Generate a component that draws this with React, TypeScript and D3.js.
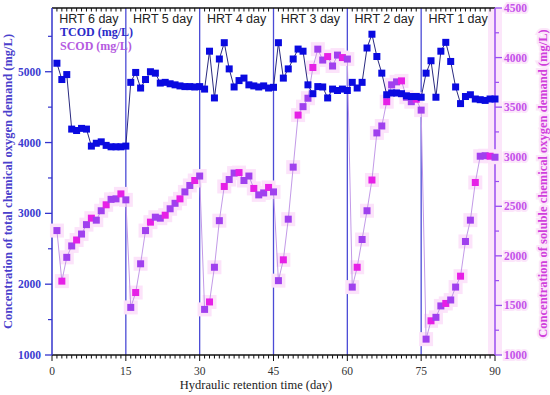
import React, { useEffect, useRef } from 'react';
import * as d3 from 'd3';

// daily readings, days 1..90 (six HRT stages of 15 days)
const tcod = [
	5120, 4890, 4960, 4190, 4170, 4200, 4190, 3950, 3990, 4010, 3960, 3940, 3940, 3940, 3950,
	4850, 4990, 4770, 4890, 5000, 4980, 4840, 4850, 4830, 4815, 4800, 4790, 4790, 4785, 4790,
	4755, 5290, 4630, 5180, 5410, 5040, 4785, 4875, 4910, 4815, 4800, 4785, 4800, 4770, 4780,
	5410, 4910, 5040, 5180, 5320, 5290, 4815, 4690, 4790, 4785, 4630, 4755, 4735, 4755, 4735,
	4850, 4770, 4850, 5335, 5530, 5215, 4980, 4675, 4700, 4700, 4690, 4660, 4650, 4650, 4640,
	4980, 5155, 4640, 5290, 5415, 5145, 4785, 4550, 4650, 4675, 4615, 4605, 4595, 4615, 4615,
];

const scod = [
	2255, 1745, 1985, 2100, 2160, 2220, 2315, 2380, 2360, 2455, 2515, 2570, 2575, 2625, 2565,
	1480, 1630, 1920, 2255, 2340, 2390, 2380, 2410, 2475, 2530, 2575, 2645, 2710, 2760, 2805,
	1460, 1535, 1885, 2355, 2700, 2770, 2835, 2840, 2760, 2805, 2680, 2615, 2635, 2690, 2645,
	1750, 1960, 2370, 2895, 3420, 3505, 3590, 3900, 4085, 3975, 4010, 3915, 4025, 4000, 3985,
	1685, 1885, 2165, 2455, 2765, 3240, 3310, 3555, 3725, 3755, 3765, 3600, 3555, 3580, 3470,
	1160, 1345, 1380, 1495, 1520, 1555, 1685, 1795, 2145, 2360, 2740, 3005, 3010, 3005, 2995,
];

const stageBounds = [15, 30, 45, 60, 75];
const stageLabels = ['HRT 6 day', 'HRT 5 day', 'HRT 4 day', 'HRT 3 day', 'HRT 2 day', 'HRT 1 day'];
const xTicks = [0, 15, 30, 45, 60, 75, 90];
const leftTicks = [1000, 2000, 3000, 4000, 5000];
const leftMinor = [1500, 2500, 3500, 4500, 5500];
const rightTicks = [1000, 1500, 2000, 2500, 3000, 3500, 4000, 4500];
const rightMinor = [1250, 1750, 2250, 2750, 3250, 3750, 4250];

const serif = '"Liberation Serif", "Times New Roman", serif';
const sans = '"Liberation Sans", Arial, sans-serif';

const App: React.FC = () => {
	const svgRef = useRef<SVGSVGElement | null>(null);

	useEffect(() => {
		if (svgRef.current == null) return;

		const width = 550;
		const height = 395;
		const left = 52, right = 495, top = 8, bottom = 355;

		const days = tcod.map((_, i) => i + 1);

		const x = d3.scaleLinear().domain([0, 90]).range([left, right]);
		const yL = d3.scaleLinear().domain([1000, 5900]).range([bottom, top]);
		const yR = d3.scaleLinear().domain([1000, 4500]).range([bottom, top]);

		const svg = d3.select(svgRef.current);
		svg.selectAll('*').remove();
		svg.attr('width', width).attr('height', height);

		svg.append('rect').attr('width', width).attr('height', height).attr('fill', '#fff');

		// pink glow along right axis
		svg.append('line')
			.attr('x1', right).attr('x2', right).attr('y1', top).attr('y2', bottom)
			.attr('stroke', '#fce6fa').attr('stroke-width', 14);

		// stage separators
		svg.append('g').selectAll('line').data(stageBounds).join('line')
			.attr('x1', d => x(d)).attr('x2', d => x(d))
			.attr('y1', top).attr('y2', bottom)
			.attr('stroke', '#4b4bd6').attr('stroke-width', 1.3);

		// stage labels
		svg.append('g').selectAll('text').data(stageLabels).join('text')
			.attr('x', (_, i) => x(i * 15 + 7.5))
			.attr('y', 23)
			.attr('text-anchor', 'middle')
			.attr('font-family', sans)
			.attr('font-size', 12.5)
			.attr('fill', '#222')
			.text(d => d);

		// top and bottom frame with day ticks
		const dayTicks = d3.range(0, 91);
		svg.append('line').attr('x1', left).attr('x2', right).attr('y1', top).attr('y2', top)
			.attr('stroke', '#111').attr('stroke-width', 1.3);
		svg.append('line').attr('x1', left).attr('x2', right).attr('y1', bottom).attr('y2', bottom)
			.attr('stroke', '#111').attr('stroke-width', 1.3);
		svg.append('g').selectAll('line').data(dayTicks).join('line')
			.attr('x1', d => x(d)).attr('x2', d => x(d))
			.attr('y1', bottom).attr('y2', d => bottom + (d % 15 === 0 ? 6 : 3.5))
			.attr('stroke', '#111').attr('stroke-width', 1);
		svg.append('g').selectAll('line').data(dayTicks).join('line')
			.attr('x1', d => x(d)).attr('x2', d => x(d))
			.attr('y1', top).attr('y2', d => top + (d % 15 === 0 ? 0 : 3.5))
			.attr('stroke', '#111').attr('stroke-width', 1);

		svg.append('g').selectAll('text').data(xTicks).join('text')
			.attr('x', d => x(d)).attr('y', 375)
			.attr('text-anchor', 'middle')
			.attr('font-family', serif).attr('font-size', 11.5)
			.attr('fill', '#333')
			.text(d => d);

		svg.append('text')
			.attr('x', 256).attr('y', 389)
			.attr('text-anchor', 'middle')
			.attr('font-family', serif).attr('font-size', 12.5)
			.attr('fill', '#222')
			.text('Hydraulic retention time (day)');

		// left axis (TCOD)
		const blue = '#3434cc';
		svg.append('line').attr('x1', left).attr('x2', left).attr('y1', top).attr('y2', bottom)
			.attr('stroke', blue).attr('stroke-width', 1.5);
		svg.append('g').selectAll('line').data(leftTicks).join('line')
			.attr('x1', left - 7).attr('x2', left).attr('y1', d => yL(d)).attr('y2', d => yL(d))
			.attr('stroke', blue).attr('stroke-width', 1.3);
		svg.append('g').selectAll('line').data(leftMinor).join('line')
			.attr('x1', left - 4).attr('x2', left).attr('y1', d => yL(d)).attr('y2', d => yL(d))
			.attr('stroke', blue).attr('stroke-width', 1.2);
		svg.append('g').selectAll('text').data(leftTicks).join('text')
			.attr('x', 41).attr('y', d => yL(d)).attr('dy', '0.35em')
			.attr('text-anchor', 'end')
			.attr('font-family', serif).attr('font-size', 11.5).attr('font-weight', 'bold')
			.attr('fill', '#3c3cd0')
			.text(d => d);
		svg.append('text')
			.attr('transform', `translate(12,${(top + bottom) / 2}) rotate(-90)`)
			.attr('text-anchor', 'middle')
			.attr('font-family', serif).attr('font-size', 12.5).attr('font-weight', 'bold')
			.attr('fill', '#4a40cc')
			.text('Concentration of total chemical oxygen demand (mg/L)');

		// right axis (SCOD)
		const violet = '#9a4ef0';
		svg.append('line').attr('x1', right).attr('x2', right).attr('y1', top).attr('y2', bottom)
			.attr('stroke', violet).attr('stroke-width', 1.5);
		svg.append('g').selectAll('line').data(rightTicks).join('line')
			.attr('x1', right).attr('x2', right + 7).attr('y1', d => yR(d)).attr('y2', d => yR(d))
			.attr('stroke', violet).attr('stroke-width', 1.3);
		svg.append('g').selectAll('line').data(rightMinor).join('line')
			.attr('x1', right).attr('x2', right + 4).attr('y1', d => yR(d)).attr('y2', d => yR(d))
			.attr('stroke', violet).attr('stroke-width', 1.2);
		svg.append('g').selectAll('text').data(rightTicks).join('text')
			.attr('x', 504).attr('y', d => yR(d)).attr('dy', '0.35em')
			.attr('font-family', serif).attr('font-size', 11.5).attr('font-weight', 'bold')
			.attr('fill', '#c452ea')
			.attr('stroke', '#fce6fa').attr('stroke-width', 4).attr('paint-order', 'stroke')
			.text(d => d);
		svg.append('text')
			.attr('transform', `translate(547,${(top + bottom) / 2 + 2}) rotate(-90)`)
			.attr('text-anchor', 'middle')
			.attr('font-family', serif).attr('font-size', 12.5).attr('font-weight', 'bold')
			.attr('fill', '#d040dc')
			.attr('stroke', '#fce6fa').attr('stroke-width', 4).attr('paint-order', 'stroke')
			.text('Concentration of soluble chemical oxygen demand (mg/L)');

		// SCOD series
		const scodLine = d3.line<number>()
			.x((_, i) => x(days[i]))
			.y(d => yR(d));
		const sg = svg.append('g');
		sg.selectAll('rect.halo').data(scod).join('rect')
			.attr('class', 'halo')
			.attr('x', (_, i) => x(days[i]) - 7).attr('y', d => yR(d) - 7)
			.attr('width', 14).attr('height', 14)
			.attr('fill', '#fce3fa');
		sg.append('path')
			.datum(scod)
			.attr('fill', 'none')
			.attr('stroke', '#c39ae8')
			.attr('stroke-width', 1)
			.attr('d', scodLine);
		sg.selectAll('rect.pt').data(scod).join('rect')
			.attr('class', 'pt')
			.attr('x', (_, i) => x(days[i]) - 3.5).attr('y', d => yR(d) - 3.5)
			.attr('width', 7).attr('height', 7)
			.attr('fill', (_, i) => (i % 3 === 1 ? '#e620e6' : '#a040ee'));

		// TCOD series
		const tcodLine = d3.line<number>()
			.x((_, i) => x(days[i]))
			.y(d => yL(d));
		const tg = svg.append('g');
		tg.append('path')
			.datum(tcod)
			.attr('fill', 'none')
			.attr('stroke', '#2a2a80')
			.attr('stroke-width', 1)
			.attr('d', tcodLine);
		tg.selectAll('rect').data(tcod).join('rect')
			.attr('x', (_, i) => x(days[i]) - 3.5).attr('y', d => yL(d) - 3.5)
			.attr('width', 7).attr('height', 7)
			.attr('fill', '#0a0ae0');

		// legend
		svg.append('text')
			.attr('x', 60).attr('y', 36)
			.attr('font-family', serif).attr('font-size', 12).attr('font-weight', 'bold')
			.attr('fill', '#2b2bc8')
			.text('TCOD (mg/L)');
		svg.append('text')
			.attr('x', 60).attr('y', 50)
			.attr('font-family', serif).attr('font-size', 12).attr('font-weight', 'bold')
			.attr('fill', '#b45ae0')
			.text('SCOD (mg/L)');
	}, []);

	return (
		<svg ref={svgRef} style={{ position: 'absolute', left: 0, top: 0, display: 'block' }}></svg>
	);
};

export default App;
